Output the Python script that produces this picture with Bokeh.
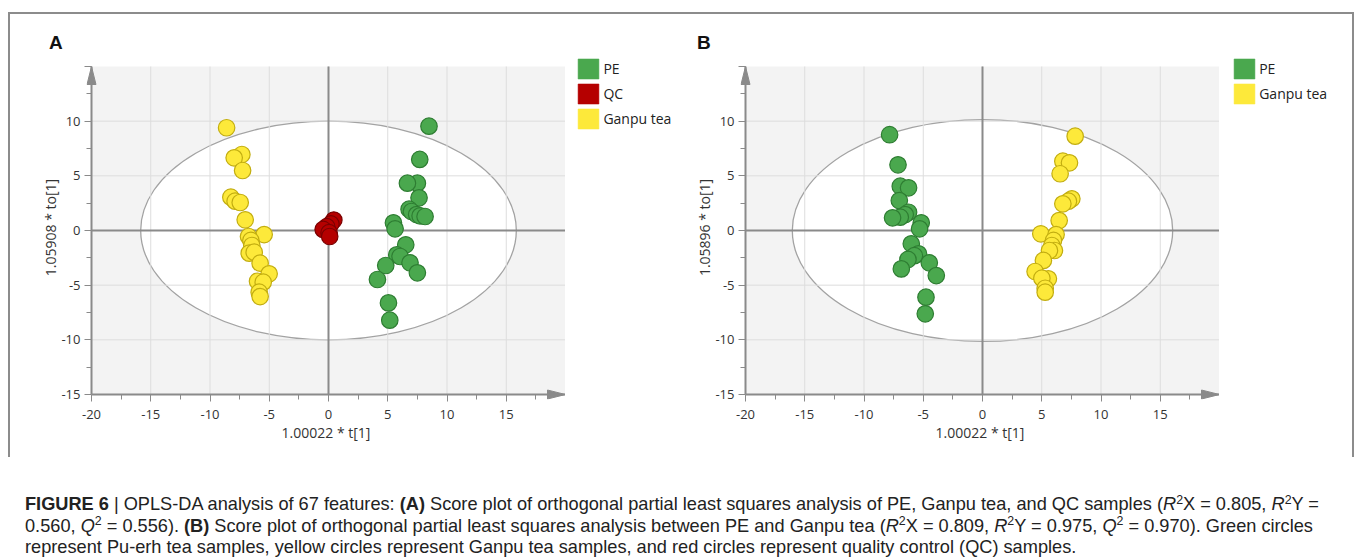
from bokeh.plotting import figure
from bokeh.models import FixedTicker, Legend, LegendItem, PolyAnnotation, Div, Spacer
from bokeh.layouts import row, column
from bokeh.embed import file_html
from bokeh.resources import INLINE

# ---------------- data ----------------
X_TICKS = [-20, -15, -10, -5, 0, 5, 10, 15, 20]
X_TICK_LABELS = ["-20", "-15", "-10", "-5", "0", "5", "10", "15", ""]
X_MINOR = [-17.5, -12.5, -7.5, -2.5, 2.5, 7.5, 12.5, 17.5]
Y_TICKS = [-15, -10, -5, 0, 5, 10, 15]
Y_TICK_LABELS = ["-15", "-10", "-5", "0", "5", "10", ""]
Y_MINOR = [-12.5, -7.5, -2.5, 2.5, 7.5, 12.5]

A_PE_X = [8.48, 7.70, 7.50, 6.66, 7.64, 6.80, 7.00, 7.44, 7.73, 8.15, 5.48, 5.62, 6.52, 5.76, 6.04, 6.88, 4.83, 7.50, 4.13, 5.06, 5.17]
A_PE_Y = [9.54, 6.50, 4.33, 4.33, 2.99, 1.95, 1.74, 1.46, 1.34, 1.28, 0.70, 0.15, -1.31, -2.23, -2.38, -2.96, -3.20, -3.87, -4.48, -6.62, -8.20]
A_GANPU_X = [-8.60, -7.31, -7.96, -7.25, -8.24, -7.88, -7.45, -7.03, -5.43, -6.75, -6.55, -6.47, -6.69, -6.27, -5.77, -5.01, -5.99, -5.51, -5.85, -5.77]
A_GANPU_Y = [9.40, 6.95, 6.65, 5.49, 3.05, 2.68, 2.56, 0.98, -0.37, -0.55, -0.91, -1.37, -2.07, -1.98, -2.99, -3.96, -4.64, -4.73, -5.64, -6.04]
A_QC_X = [0.45, 0.20, -0.15, -0.45, 0.05, 0.10]
A_QC_Y = [0.95, 0.60, 0.35, 0.10, -0.20, -0.55]

B_PE_X = [-7.84, -7.13, -6.94, -6.24, -7.02, -6.24, -6.52, -6.94, -7.59, -5.17, -5.31, -6.01, -5.40, -5.75, -6.29, -4.49, -6.85, -3.90, -4.77, -4.83]
B_PE_Y = [8.76, 6.01, 4.05, 3.90, 2.74, 1.67, 1.46, 1.22, 1.16, 0.70, 0.15, -1.22, -2.13, -2.30, -2.65, -2.96, -3.51, -4.12, -6.10, -7.62]
B_GANPU_X = [7.82, 6.78, 7.34, 6.55, 7.54, 7.25, 6.78, 6.47, 4.92, 6.21, 5.99, 5.85, 6.07, 5.65, 5.14, 4.44, 5.56, 5.01, 5.29, 5.29]
B_GANPU_Y = [8.63, 6.34, 6.19, 5.19, 2.90, 2.68, 2.44, 0.91, -0.30, -0.37, -0.91, -1.37, -1.83, -1.83, -2.74, -3.75, -4.42, -4.36, -5.28, -5.64]

A_ELLIPSE = [15.85, 10.0]   # semi-axes (t, to)
B_ELLIPSE = [16.05, 10.15]

A_XLABEL = "1.00022 * t[1]"
A_YLABEL = "1.05908 * to[1]"
B_XLABEL = "1.00022 * t[1]"
B_YLABEL = "1.05896 * to[1]"

A_LEGEND = ["PE", "QC", "Ganpu tea"]
B_LEGEND = ["PE", "Ganpu tea"]

GREEN = ("#4aa84e", "#2e7d32")
RED = ("#b50000", "#7a0000")
YELLOW = ("#fde93a", "#c2ad10")

FONT = "Open Sans"
AXC = "#8a8a8a"
GRIDC = "#dddddd"

PAD = 5          # px of frame kept left of / below the axis spines (for the arrow heads)
TOP_PAD = 11     # px of frame above the plot area (room for the legend)
FRAME_W, FRAME_H = 479, 344
FIG_H = 443
BORDER_T, BORDER_B = 41, 58


def make_panel(letter, letter_offset, border_l, groups, xlabel, ylabel, ell):
    x0, x1 = X_TICKS[0], X_TICKS[-1]
    y0, y1 = Y_TICKS[0], Y_TICKS[-1]
    ux = (x1 - x0) / (FRAME_W - PAD)
    uy = (y1 - y0) / (FRAME_H - PAD - TOP_PAD)
    p = figure(width=border_l + FRAME_W, height=FIG_H, x_range=(x0 - PAD * ux, x1),
               y_range=(y0 - PAD * uy, y1 + TOP_PAD * uy),
               output_backend="svg", toolbar_location=None,
               min_border_left=border_l, min_border_right=0,
               min_border_top=BORDER_T, min_border_bottom=BORDER_B)
    p.background_fill_color = "white"
    p.border_fill_color = "white"
    p.outline_line_color = None
    p.grid.visible = False

    # plot area background and Hotelling ellipse
    p.quad(left=[x0], right=[x1], bottom=[y0], top=[y1], fill_color="#f3f3f3", line_color=None, level="image")
    p.ellipse(x=[0], y=[0], width=[2 * ell[0]], height=[2 * ell[1]],
              fill_color="white", line_color="#a3a3a3", line_width=1.3, level="image")

    # grid lines restricted to the plot area
    gx = X_TICKS[1:-1]
    gy = Y_TICKS[1:-1]
    p.segment(x0=gx, y0=[y0] * len(gx), x1=gx, y1=[y1] * len(gx), line_color=GRIDC, line_width=1, level="underlay")
    p.segment(x0=[x0] * len(gy), y0=gy, x1=[x1] * len(gy), y1=gy, line_color=GRIDC, line_width=1, level="underlay")
    # spines and zero lines
    p.segment(x0=[x0, x0, 0, x0], y0=[y0, y0, y0, 0], x1=[x0, x1, 0, x1], y1=[y1, y0, y1, 0],
              line_color=AXC, line_width=2, level="underlay")

    xt = FixedTicker(ticks=X_TICKS, minor_ticks=X_MINOR)
    yt = FixedTicker(ticks=Y_TICKS, minor_ticks=Y_MINOR)
    p.xaxis.ticker = xt
    p.yaxis.ticker = yt
    p.xaxis.major_label_overrides = dict(zip(X_TICKS, X_TICK_LABELS))
    p.yaxis.major_label_overrides = dict(zip(Y_TICKS, Y_TICK_LABELS))
    p.xaxis.axis_label = xlabel
    p.yaxis.axis_label = ylabel
    for ax in (p.xaxis[0], p.yaxis[0]):
        ax.axis_line_color = None
        ax.major_tick_line_color = AXC
        ax.major_tick_in = PAD
        ax.major_tick_out = 2
        ax.minor_tick_line_color = AXC
        ax.minor_tick_in = PAD
        ax.minor_tick_out = 0
        ax.major_label_text_font = FONT
        ax.major_label_text_font_size = "13px"
        ax.major_label_text_color = "#333333"
        ax.axis_label_text_font = FONT
        ax.axis_label_text_font_size = "14px"
        ax.axis_label_text_font_style = "normal"
        ax.axis_label_text_color = "#333333"
    p.xaxis.major_label_standoff = 8
    p.yaxis.major_label_standoff = 4
    p.xaxis.axis_label_standoff = 1
    p.yaxis.axis_label_standoff = -2

    # axis arrows
    p.add_layout(PolyAnnotation(xs=[x0 - 4.5 * ux, x0, x0 + 4.5 * ux], ys=[y1 - 18 * uy, y1, y1 - 18 * uy],
                                fill_color=AXC, fill_alpha=1, line_color=AXC, line_alpha=1, level="overlay"))
    p.add_layout(PolyAnnotation(xs=[x1 - 18 * ux, x1, x1 - 18 * ux], ys=[y0 + 4.5 * uy, y0, y0 - 4.5 * uy],
                                fill_color=AXC, fill_alpha=1, line_color=AXC, line_alpha=1, level="overlay"))

    for xs, ys, (fc, lc) in groups:
        p.scatter(xs, ys, size=16.5, fill_color=fc, line_color=lc, line_width=1.2)

    p.title.text = letter
    p.title.align = "left"
    p.title.offset = letter_offset
    p.title.standoff = 5
    p.title.text_font = "Liberation Sans"
    p.title.text_font_style = "bold"
    p.title.text_font_size = "19px"
    p.title.text_color = "#111111"
    return p


def make_legend(width, names, colors, loc):
    q = figure(width=width, height=FIG_H, x_range=(0, 1), y_range=(0, 1),
               x_axis_location=None, y_axis_location=None,
               output_backend="svg", toolbar_location=None,
               min_border_left=0, min_border_right=0, min_border_top=0, min_border_bottom=0)
    q.grid.visible = False
    q.outline_line_color = None
    q.background_fill_color = "white"
    q.border_fill_color = "white"
    items = []
    for name, (fc, lc) in zip(names, colors):
        r = q.quad(left=[0], right=[0], top=[0], bottom=[0], fill_color=fc, line_color=fc,
                   line_alpha=0.55, visible=False)
        items.append(LegendItem(label=name, renderers=[r]))
    leg = Legend(items=items, location=loc, orientation="vertical",
                 glyph_width=26, glyph_height=25, spacing=0, padding=0, margin=0,
                 label_standoff=2, border_line_color=None, background_fill_alpha=0,
                 label_text_font=FONT, label_text_font_size="14px", label_text_color="#222222")
    q.add_layout(leg)
    return q


figA = make_panel("A", -37.5, 76,
                  [(A_GANPU_X, A_GANPU_Y, YELLOW), (A_PE_X, A_PE_Y, GREEN), (A_QC_X, A_QC_Y, RED)],
                  A_XLABEL, A_YLABEL, A_ELLIPSE)
legA = make_legend(111, A_LEGEND, [GREEN, RED, YELLOW], (10.4, 268.2))
figB = make_panel("B", -43.5, 64,
                  [(B_PE_X, B_PE_Y, GREEN), (B_GANPU_X, B_GANPU_Y, YELLOW)],
                  B_XLABEL, B_YLABEL, B_ELLIPSE)
legB = make_legend(133, B_LEGEND, [GREEN, YELLOW], (12.2, 293.2))

SUP = '<span style="font-size:0.68em;position:relative;top:-0.5em;line-height:0;">2</span>'
caption_html = (
    '<div style="font-family:\'Liberation Sans\',sans-serif;font-size:18.2px;'
    'line-height:21.5px;padding:32px 0 0 12px;white-space:nowrap;color:#222;">'
    '<b>FIGURE 6</b> | OPLS-DA analysis of 67 features: <b>(A)</b> Score plot of orthogonal partial least squares '
    'analysis of PE, Ganpu tea, and QC samples (<i>R</i>' + SUP + 'X = 0.805, <i>R</i>' + SUP + 'Y =<br>'
    '0.560, <i>Q</i>' + SUP + ' = 0.556). <b>(B)</b> Score plot of orthogonal partial least squares analysis '
    'between PE and Ganpu tea (<i>R</i>' + SUP + 'X = 0.809, <i>R</i>' + SUP + 'Y = 0.975, '
    '<i>Q</i>' + SUP + ' = 0.970). Green circles<br>'
    'represent Pu-erh tea samples, yellow circles represent Ganpu tea samples, and red circles represent '
    'quality control (QC) samples.</div>'
)
cap = Div(text=caption_html, width=1352, height=101)

BC = "#8c8c8c"
root = column(
    Spacer(width=1360, height=12),
    row(Spacer(width=8, height=2), Spacer(width=1346, height=2, styles={"background-color": BC})),
    row(Spacer(width=8, height=FIG_H),
        Spacer(width=2, height=FIG_H, styles={"background-color": BC}),
        row(figA, legA, figB, legB),
        Spacer(width=2, height=FIG_H, styles={"background-color": BC})),
    row(Spacer(width=8, height=101), cap),
)

open("out.html", "w").write(file_html(root, INLINE))
